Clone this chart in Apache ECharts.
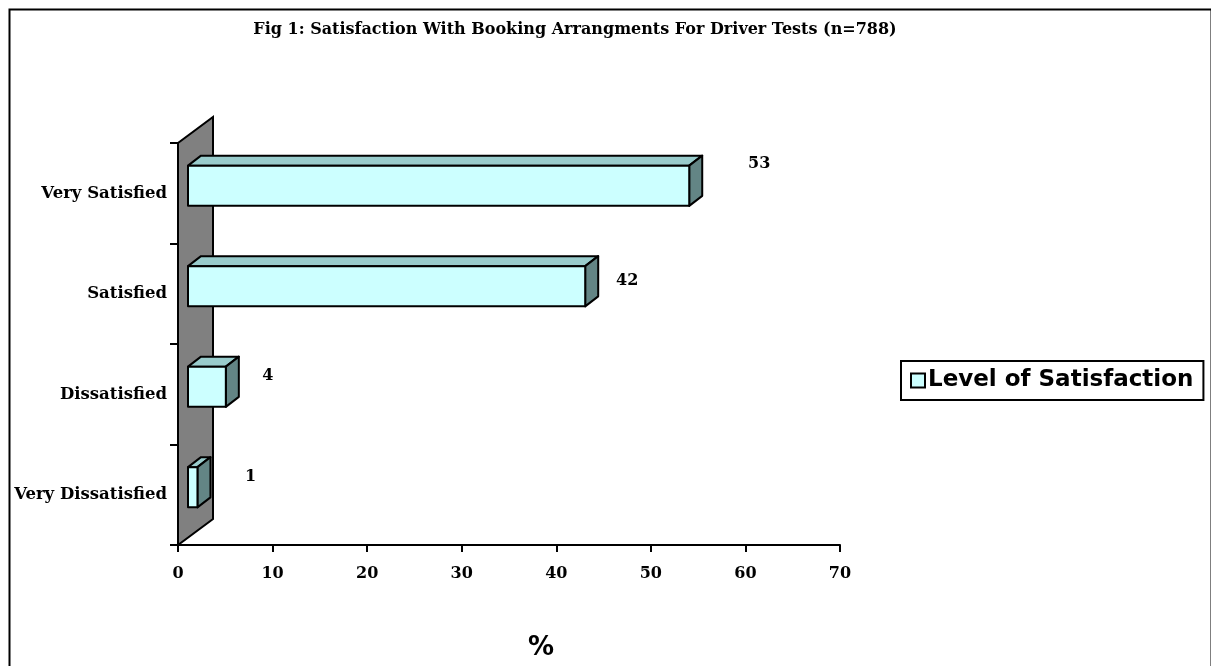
<!DOCTYPE html>
<html>
<head>
<meta charset="utf-8">
<script src="https://cdn.jsdelivr.net/npm/echarts@6/dist/echarts.min.js"></script>
<style>
  html, body { margin: 0; padding: 0; background: #fff; }
  #chart { width: 1211px; height: 666px; }
</style>
</head>
<body>
<div id="chart"></div>
<script>
// data
var categories = ['Very Satisfied', 'Satisfied', 'Dissatisfied', 'Very Dissatisfied'];
var satisfaction = [53, 42, 4, 1];
var xTicks = [0, 10, 20, 30, 40, 50, 60, 70];

// label nudges (px) so the value labels sit where Excel put them
var labelShift = [[57, -22], [29, -5], [29, -11], [40, -10]];

var serif = '"DejaVu Serif", serif';
var sans = '"DejaVu Sans", sans-serif';

var chart = echarts.init(document.getElementById('chart'));

// 3d look: bar front face pushed back a bit, wall is the full depth
var front = [10, -7.5];
var depth = [13, -10];
var wallDepth = [35, -26];

function renderWall(params, api) {
  var cs = params.coordSys;
  var x0 = cs.x, yT = cs.y, yB = cs.y + cs.height;
  return {
    type: 'polygon',
    shape: {
      points: [[x0, yB], [x0, yT], [x0 + wallDepth[0], yT + wallDepth[1]], [x0 + wallDepth[0], yB + wallDepth[1]]]
    },
    style: { fill: '#808080', stroke: '#000', lineWidth: 2 }
  };
}

function renderBar(params, api) {
  var v = api.value(0), idx = api.value(1);
  var p0 = api.coord([0, idx]);
  var p1 = api.coord([v, idx]);
  var h = api.size([0, 1])[1] * 0.4;
  var xL = p0[0] + front[0], xR = p1[0] + front[0];
  var yc = p0[1] + front[1];
  var yT = yc - h / 2, yB = yc + h / 2;
  var dx = depth[0], dy = depth[1];
  var st = { stroke: '#000', lineWidth: 2, lineJoin: 'round' };
  var sh = labelShift[params.dataIndex];
  return {
    type: 'group',
    children: [
      { type: 'polygon', shape: { points: [[xL, yT], [xR, yT], [xR + dx, yT + dy], [xL + dx, yT + dy]] },
        style: Object.assign({ fill: '#99CCCC' }, st) },
      { type: 'polygon', shape: { points: [[xR, yT], [xR + dx, yT + dy], [xR + dx, yB + dy], [xR, yB]] },
        style: Object.assign({ fill: '#638585' }, st) },
      { type: 'rect', shape: { x: xL, y: yT, width: xR - xL, height: h },
        style: Object.assign({ fill: '#CCFFFF' }, st) },
      { type: 'text', x: xR + dx + sh[0], y: yc + sh[1],
        style: { text: String(v), fill: '#000', font: 'bold 16px ' + serif, align: 'center', verticalAlign: 'middle' } }
    ]
  };
}

var option = {
  animation: false,
  title: {
    text: 'Fig 1: Satisfaction With Booking Arrangments For Driver Tests (n=788)',
    left: 570,
    top: 17,
    textAlign: 'center',
    textStyle: { fontFamily: serif, fontWeight: 'bold', fontSize: 16, color: '#000' }
  },
  legend: {
    data: ['Level of Satisfaction'],
    left: 901,
    top: 361,
    orient: 'vertical',
    padding: [8, 10, 8, 9],
    borderColor: '#000',
    borderWidth: 2,
    icon: 'rect',
    itemWidth: 14,
    itemHeight: 14,
    itemGap: 0,
    textStyle: { fontFamily: sans, fontWeight: 'bold', fontSize: 23, color: '#000', padding: [0, 0, 0, -2] }
  },
  grid: { left: 178, top: 143, width: 662, height: 410, containLabel: false },
  xAxis: {
    type: 'value',
    min: xTicks[0],
    max: xTicks[xTicks.length - 1],
    interval: 10,
    splitLine: { show: false },
    axisLine: { show: true, lineStyle: { color: '#000', width: 2 } },
    axisTick: { show: true, length: 7, lineStyle: { color: '#000', width: 2 } },
    axisLabel: { margin: 21, color: '#000', fontFamily: serif, fontWeight: 'bold', fontSize: 16 },
    name: '%',
    nameLocation: 'middle',
    nameGap: 90,
    nameTextStyle: { fontFamily: sans, fontWeight: 'bold', fontSize: 26, color: '#000', padding: [0, 0, 0, 64] }
  },
  yAxis: {
    type: 'category',
    inverse: true,
    data: categories,
    axisLine: { show: true, lineStyle: { color: '#000', width: 2 } },
    axisTick: { show: true, length: 8, inside: false, lineStyle: { color: '#000', width: 2 } },
    axisLabel: { margin: 11, color: '#000', fontFamily: serif, fontWeight: 'bold', fontSize: 16.5 },
    splitLine: { show: false }
  },
  series: [
    {
      name: 'wall',
      type: 'custom',
      renderItem: renderWall,
      data: [[0, 0]],
      silent: true,
      z: 1
    },
    {
      name: 'Level of Satisfaction',
      type: 'custom',
      renderItem: renderBar,
      encode: { x: 0, y: 1 },
      itemStyle: { color: '#CCFFFF', borderColor: '#000', borderWidth: 1 },
      data: satisfaction.map(function (v, i) { return [v, i]; }),
      z: 3
    }
  ],
  graphic: [
    { type: 'rect', left: 7, top: 7, shape: { width: 1202, height: 700 },
      style: { fill: 'none', stroke: '#000', lineWidth: 2 }, silent: true, z: 10 }
  ]
};

chart.setOption(option);
window.addEventListener('resize', function () { chart.resize(); });
</script>
</body>
</html>
